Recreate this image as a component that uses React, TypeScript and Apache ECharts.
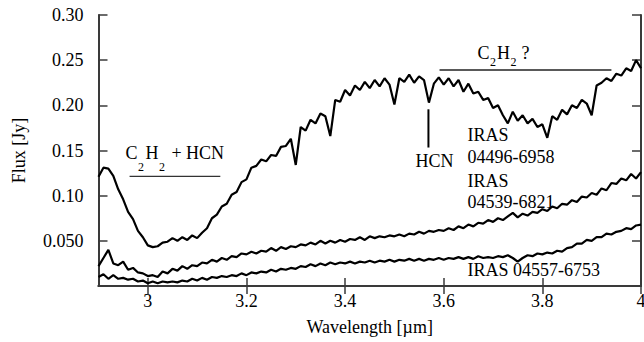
import React, { useEffect, useRef } from 'react';
import * as echarts from 'echarts';

// Sampling grid of the spectra (µm), 2.90 ... 4.00 in 0.01 steps
const wavelength: number[] = Array.from({ length: 111 }, (_, i) => Math.round((2.9 + i * 0.01) * 100) / 100);

// IRAS 04496-6958 (upper spectrum)
const fluxA: number[] = [
  0.121, 0.131, 0.130, 0.122, 0.107, 0.096, 0.082, 0.074, 0.061, 0.054,
  0.045, 0.043, 0.044, 0.048, 0.049, 0.053, 0.050, 0.054, 0.051, 0.056,
  0.053, 0.059, 0.064, 0.075, 0.079, 0.088, 0.091, 0.101, 0.104, 0.115,
  0.118, 0.131, 0.133, 0.140, 0.138, 0.145, 0.144, 0.154, 0.155, 0.163,
  0.134, 0.176, 0.172, 0.184, 0.180, 0.191, 0.188, 0.166, 0.206, 0.204,
  0.217, 0.211, 0.222, 0.217, 0.226, 0.219, 0.228, 0.221, 0.230, 0.223,
  0.201, 0.230, 0.226, 0.234, 0.225, 0.232, 0.228, 0.203, 0.224, 0.231,
  0.223, 0.230, 0.221, 0.228, 0.215, 0.224, 0.213, 0.215, 0.206, 0.208,
  0.197, 0.200, 0.189, 0.180, 0.193, 0.183, 0.189, 0.180, 0.185, 0.176,
  0.179, 0.164, 0.188, 0.184, 0.195, 0.190, 0.200, 0.197, 0.206, 0.202,
  0.189, 0.222, 0.225, 0.230, 0.227, 0.235, 0.233, 0.241, 0.238, 0.250,
  0.241,
];

// IRAS 04539-6821 (middle spectrum)
const fluxB: number[] = [
  0.022, 0.031, 0.040, 0.025, 0.023, 0.027, 0.018, 0.020, 0.015, 0.014,
  0.011, 0.012, 0.010, 0.016, 0.014, 0.019, 0.017, 0.022, 0.019, 0.023,
  0.022, 0.026, 0.025, 0.029, 0.027, 0.031, 0.029, 0.033, 0.032, 0.036,
  0.035, 0.038, 0.036, 0.039, 0.038, 0.042, 0.039, 0.043, 0.041, 0.044,
  0.043, 0.046, 0.045, 0.048, 0.046, 0.050, 0.047, 0.050, 0.048, 0.051,
  0.049, 0.052, 0.051, 0.054, 0.051, 0.055, 0.053, 0.055, 0.054, 0.056,
  0.055, 0.057, 0.055, 0.058, 0.057, 0.060, 0.058, 0.061, 0.060, 0.062,
  0.061, 0.064, 0.062, 0.066, 0.064, 0.068, 0.066, 0.070, 0.069, 0.073,
  0.071, 0.075, 0.073, 0.077, 0.081, 0.076, 0.080, 0.078, 0.082, 0.081,
  0.085, 0.083, 0.088, 0.086, 0.091, 0.090, 0.095, 0.093, 0.099, 0.098,
  0.103, 0.101, 0.108, 0.106, 0.114, 0.113, 0.119, 0.117, 0.124, 0.119,
  0.126,
];

// IRAS 04557-6753 (lower spectrum)
const fluxC: number[] = [
  0.010, 0.013, 0.008, 0.012, 0.008, 0.009, 0.007, 0.008, 0.005, 0.006,
  0.003, 0.005, 0.003, 0.005, 0.004, 0.005, 0.004, 0.006, 0.005, 0.008,
  0.006, 0.009, 0.007, 0.010, 0.009, 0.011, 0.010, 0.012, 0.011, 0.014,
  0.012, 0.015, 0.014, 0.016, 0.015, 0.018, 0.016, 0.019, 0.018, 0.020,
  0.019, 0.022, 0.021, 0.024, 0.022, 0.025, 0.023, 0.026, 0.024, 0.026,
  0.025, 0.027, 0.025, 0.027, 0.026, 0.028, 0.026, 0.028, 0.027, 0.029,
  0.027, 0.029, 0.028, 0.030, 0.028, 0.030, 0.028, 0.030, 0.029, 0.031,
  0.029, 0.031, 0.030, 0.032, 0.030, 0.032, 0.030, 0.033, 0.031, 0.032,
  0.031, 0.033, 0.032, 0.034, 0.031, 0.027, 0.031, 0.034, 0.033, 0.036,
  0.035, 0.037, 0.036, 0.039, 0.038, 0.042, 0.043, 0.047, 0.047, 0.051,
  0.050, 0.054, 0.054, 0.058, 0.057, 0.060, 0.061, 0.064, 0.063, 0.067,
  0.068,
];

const seriesNames = ['IRAS 04496-6958', 'IRAS 04539-6821', 'IRAS 04557-6753'];
const xTickValues = [3, 3.2, 3.4, 3.6, 3.8, 4];

// Annotations (data coordinates)
const sourceLabels: { text: string; at: [number, number] }[] = [
  { text: 'IRAS', at: [3.648, 0.1667] },
  { text: '04496-6958', at: [3.648, 0.1433] },
  { text: 'IRAS', at: [3.648, 0.1167] },
  { text: '04539-6821', at: [3.648, 0.0933] },
  { text: 'IRAS 04557-6753', at: [3.648, 0.0178] },
];
const hcnLabel = { text: 'HCN', at: [3.5428, 0.1389] as [number, number] };
const hcnMarker: [number, number][] = [[3.569, 0.1956], [3.569, 0.1533]];
const bandBar1: [number, number][] = [[2.963, 0.1214], [3.147, 0.1214]];
const bandBar2: [number, number][] = [[3.5915, 0.2392], [3.94, 0.2392]];
const bandLabel1At: [number, number] = [2.9546, 0.1472];
const bandLabel2At: [number, number] = [3.6686, 0.2578];

const FONT = 'Liberation Serif';

export default function App() {
  const ref = useRef<HTMLDivElement>(null);
  useEffect(() => {
    if (!ref.current) return;
    const chart = echarts.init(ref.current, undefined, { renderer: 'svg' });
    const axisColor = '#3a3a3a';
    const mk = (ys: number[]) => wavelength.map((x, i) => [x, ys[i]]);
    const rich = { s: { fontFamily: FONT, fontSize: 18, color: '#000', lineHeight: 20 } };
    const option: any = {
      animation: false,
      backgroundColor: '#fff',
      textStyle: { fontFamily: FONT, fontSize: 18 },
      grid: { left: 98.5, right: 3, top: 15, bottom: 56, containLabel: false, outerBoundsMode: 'none' },
      xAxis: [
        {
          type: 'value', min: 2.9, max: 4.0, position: 'bottom',
          name: '{s|Wavelength [µm]}', nameLocation: 'middle', nameGap: 31,
          nameTextStyle: { fontFamily: FONT, fontSize: 18, color: '#000', rich },
          axisLine: { show: true, lineStyle: { color: axisColor, width: 2 } },
          axisTick: { show: true, inside: true, length: 8, customValues: xTickValues, lineStyle: { color: axisColor, width: 1.5 } },
          axisLabel: {
            show: true, customValues: xTickValues, margin: 5, fontFamily: FONT, fontSize: 18, color: '#000', rich,
            formatter: (v: number) => '{s|' + String(Math.round(v * 10) / 10) + '}',
          },
          splitLine: { show: false },
        },
        {
          type: 'value', min: 2.9, max: 4.0, position: 'top',
          axisLine: { show: true, lineStyle: { color: axisColor, width: 2 } },
          axisTick: { show: true, inside: true, length: 8, customValues: xTickValues, lineStyle: { color: axisColor, width: 1.5 } },
          axisLabel: { show: false },
          splitLine: { show: false },
        },
      ],
      yAxis: [
        {
          type: 'value', min: 0, max: 0.3, interval: 0.05, position: 'left',
          name: '{s|Flux [Jy]}', nameLocation: 'middle', nameGap: 70,
          nameTextStyle: { fontFamily: FONT, fontSize: 18, color: '#000', rich },
          axisLine: { show: true, lineStyle: { color: axisColor, width: 2 } },
          axisTick: { show: true, inside: true, length: 9, lineStyle: { color: axisColor, width: 1.5 } },
          axisLabel: {
            show: true, margin: 15, fontFamily: FONT, fontSize: 18, color: '#000', rich,
            formatter: (v: number) => (v < 1e-9 ? '' : '{s|' + (Math.abs(v - 0.05) < 1e-9 ? '0.050' : v.toFixed(2)) + '}'),
          },
          splitLine: { show: false },
        },
        {
          type: 'value', min: 0, max: 0.3, interval: 0.05, position: 'right',
          axisLine: { show: true, lineStyle: { color: axisColor, width: 2 } },
          axisTick: { show: true, inside: true, length: 9, lineStyle: { color: axisColor, width: 1.5 } },
          axisLabel: { show: false },
          splitLine: { show: false },
        },
      ],
      series: [fluxA, fluxB, fluxC].map((ys, k) => ({
        name: seriesNames[k],
        type: 'line',
        xAxisIndex: 0,
        yAxisIndex: 0,
        data: mk(ys),
        showSymbol: false,
        symbol: 'none',
        lineStyle: { color: '#000', width: 2.2 },
        z: 3,
      })),
    };
    chart.setOption(option);

    const px = (p: [number, number]) => chart.convertToPixel({ gridIndex: 0 } as any, p) as number[];
    const txt = (text: string, x: number, y: number, size = 18) => ({
      type: 'text', x, y, silent: true, z: 10,
      style: { text, fontSize: size, fontFamily: FONT, fill: '#000', textAlign: 'left', textVerticalAlign: 'middle' },
    });
    const line = (a: [number, number], b: [number, number], w: number, c: string) => {
      const p = px(a), q = px(b);
      return { type: 'line', silent: true, z: 10, shape: { x1: p[0], y1: p[1], x2: q[0], y2: q[1] }, style: { stroke: c, lineWidth: w } };
    };
    const graphics: any[] = [];
    sourceLabels.forEach((l) => { const p = px(l.at); graphics.push(txt(l.text, p[0], p[1])); });
    { const p = px(hcnLabel.at); graphics.push(txt(hcnLabel.text, p[0], p[1])); }
    graphics.push(line(hcnMarker[0], hcnMarker[1], 2, '#000'));
    graphics.push(line(bandBar1[0], bandBar1[1], 1.2, '#333'));
    graphics.push(line(bandBar2[0], bandBar2[1], 1.5, '#222'));
    {
      const p = px(bandLabel1At);
      graphics.push(txt('C', p[0], p[1]));
      graphics.push(txt('2', p[0] + 12.5, p[1] + 14, 12));
      graphics.push(txt('H', p[0] + 20, p[1]));
      graphics.push(txt('2', p[0] + 33.5, p[1] + 14, 12));
      graphics.push(txt('+ HCN', p[0] + 46, p[1]));
    }
    {
      const p = px(bandLabel2At);
      graphics.push(txt('C', p[0], p[1]));
      graphics.push(txt('2', p[0] + 12.5, p[1] + 9, 12));
      graphics.push(txt('H', p[0] + 19.5, p[1]));
      graphics.push(txt('2', p[0] + 33, p[1] + 9, 12));
      graphics.push(txt('?', p[0] + 44, p[1]));
    }
    chart.setOption({ graphic: graphics });
    return () => chart.dispose();
  }, []);
  return <div ref={ref} style={{ position: 'absolute', left: 0, top: 0, width: 644, height: 342, background: '#fff' }} />;
}
